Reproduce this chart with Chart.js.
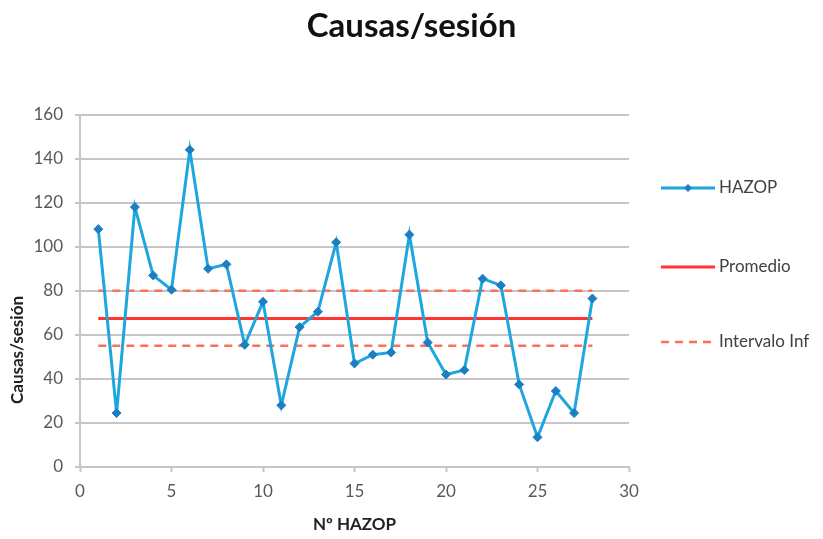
<!DOCTYPE html>
<html>
<head>
<meta charset="utf-8">
<script src="https://cdn.jsdelivr.net/npm/chart.js@4"></script>
<style>
  html, body { margin: 0; padding: 0; background: #fff; }
  #wrap { width: 823px; height: 539px; }
</style>
</head>
<body>
<div id="wrap"><canvas id="chart" width="823" height="539"></canvas></div>
<script>
// data
const hazopNumbers = [1, 2, 3, 4, 5, 6, 7, 8, 9, 10, 11, 12, 13, 14, 15, 16, 17, 18, 19, 20, 21, 22, 23, 24, 25, 26, 27, 28];
const causasPerSession = [108, 24.5, 118, 87, 80.5, 144, 90, 92, 55.5, 75, 28, 63.5, 70.5, 102, 47, 51, 52, 105.5, 56.5, 42, 44, 85.5, 82.5, 37.5, 13.5, 34.5, 24.5, 76.5];
const promedio = 67.4;
const intervaloSup = 80;
const intervaloInf = 55;
const xTicks = [0, 5, 10, 15, 20, 25, 30];
const yTicks = [0, 20, 40, 60, 80, 100, 120, 140, 160];

const BLUE = '#1ea6de';
const BLUE_DARK = '#1b7fc2';
const RED = '#ff3530';
const RED_DASH = '#ff6e5a';
const GRID = '#c6c6c6';
const FONT = 'Lato, Carlito, "Open Sans", sans-serif';
const DASH = [8, 6];

const firstX = hazopNumbers[0];
const lastX = hazopNumbers[hazopNumbers.length - 1];
const flat = v => [{ x: firstX, y: v }, { x: lastX, y: v }];

// legend + y axis title drawn by hand, the original puts them off-centre
const sideLegend = {
    id: 'sideLegend',
    afterDraw(chart) {
        const ctx = chart.ctx;
        const items = [
            { label: 'HAZOP', y: 188, color: BLUE, width: 3, dash: [], marker: true },
            { label: 'Promedio', y: 267, color: RED, width: 3, dash: [] },
            { label: 'Intervalo Inf', y: 342, color: RED_DASH, width: 2.5, dash: DASH }
        ];
        ctx.save();
        items.forEach(it => {
            ctx.beginPath();
            ctx.setLineDash(it.dash);
            ctx.strokeStyle = it.color;
            ctx.lineWidth = it.width;
            ctx.moveTo(661, it.y);
            ctx.lineTo(715, it.y);
            ctx.stroke();
            ctx.setLineDash([]);
            if (it.marker) {
                ctx.fillStyle = BLUE_DARK;
                ctx.beginPath();
                ctx.moveTo(688, it.y - 4);
                ctx.lineTo(692, it.y);
                ctx.lineTo(688, it.y + 4);
                ctx.lineTo(684, it.y);
                ctx.closePath();
                ctx.fill();
            }
            ctx.fillStyle = '#404040';
            ctx.font = '17px ' + FONT;
            ctx.textAlign = 'left';
            ctx.textBaseline = 'middle';
            ctx.fillText(it.label, 719, it.y);
        });

        // y axis title
        ctx.translate(18, 350);
        ctx.rotate(-Math.PI / 2);
        ctx.fillStyle = '#222';
        ctx.font = 'bold 17px ' + FONT;
        ctx.textAlign = 'center';
        ctx.textBaseline = 'middle';
        ctx.fillText('Causas/sesión', 0, 0);
        ctx.restore();
    }
};

new Chart(document.getElementById('chart'), {
    type: 'line',
    data: {
        datasets: [
            {
                label: 'HAZOP',
                data: hazopNumbers.map((x, i) => ({ x, y: causasPerSession[i] })),
                borderColor: BLUE,
                borderWidth: 3,
                pointStyle: 'rectRot',
                pointRadius: 4.5,
                pointBackgroundColor: BLUE_DARK,
                pointBorderColor: BLUE_DARK,
                pointBorderWidth: 1,
                tension: 0,
                order: 0
            },
            {
                label: 'Promedio',
                data: flat(promedio),
                borderColor: RED,
                borderWidth: 3,
                pointRadius: 0,
                order: 1
            },
            {
                label: 'Intervalo Sup',
                data: flat(intervaloSup),
                borderColor: RED_DASH,
                borderWidth: 2.5,
                borderDash: DASH,
                pointRadius: 0,
                order: 2
            },
            {
                label: 'Intervalo Inf',
                data: flat(intervaloInf),
                borderColor: RED_DASH,
                borderWidth: 2.5,
                borderDash: DASH,
                pointRadius: 0,
                order: 2
            }
        ]
    },
    options: {
        responsive: false,
        animation: false,
        layout: { padding: 0 },
        plugins: {
            legend: { display: false },
            tooltip: { enabled: false },
            title: {
                display: true,
                text: 'Causas/sesión',
                color: '#111',
                font: { family: FONT, size: 33, weight: 'bold' },
                padding: { top: 7, bottom: 68 }
            }
        },
        scales: {
            x: {
                type: 'linear',
                min: 0,
                max: 30,
                afterBuildTicks: s => { s.ticks = xTicks.map(v => ({ value: v })); },
                afterFit: s => { s.height = 72; },
                border: { color: GRID, width: 2 },
                grid: { drawOnChartArea: false, drawTicks: true, tickLength: 5, tickColor: GRID, tickWidth: 2 },
                ticks: { color: '#595959', font: { family: FONT, size: 17 }, padding: 9, maxRotation: 0 },
                title: {
                    display: true,
                    text: 'Nº HAZOP',
                    color: '#222',
                    font: { family: FONT, size: 17, weight: 'bold' },
                    padding: { top: 0, bottom: 4 }
                }
            },
            y: {
                min: 0,
                max: 160,
                afterBuildTicks: s => { s.ticks = yTicks.map(v => ({ value: v })); },
                afterFit: s => { s.width = 80; },
                border: { color: GRID, width: 2 },
                grid: { color: GRID, lineWidth: 2, drawTicks: true, tickLength: 5 },
                ticks: { color: '#595959', font: { family: FONT, size: 17 }, padding: 12 },
                title: { display: false }
            },
            // empty right-hand axis only reserves room for the legend
            side: {
                type: 'linear',
                position: 'right',
                display: true,
                afterFit: s => { s.width = 194; },
                grid: { display: false, drawTicks: false },
                border: { display: false },
                ticks: { display: false }
            }
        }
    },
    plugins: [sideLegend]
});
</script>
</body>
</html>
